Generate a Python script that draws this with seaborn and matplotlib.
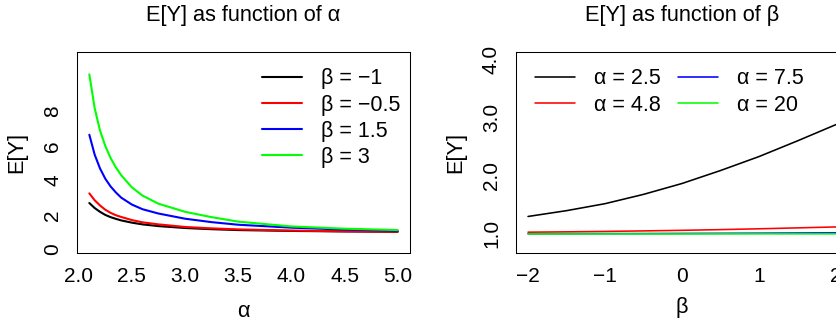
import matplotlib
matplotlib.use("Agg")
import matplotlib.pyplot as plt
import numpy as np
import pandas as pd
import seaborn as sns

# ---------------- data ----------------
alpha_grid = [2.1, 2.15, 2.2, 2.25, 2.3, 2.35, 2.4, 2.5, 2.6, 2.75, 3.0, 3.25, 3.5, 4.0, 4.5, 5.0]
ey_beta_m1 = [2.69, 2.40, 2.18, 2.00, 1.87, 1.77, 1.68, 1.55, 1.45, 1.35, 1.24, 1.17, 1.12, 1.07, 1.04, 1.02]
ey_beta_m05 = [3.25, 2.85, 2.55, 2.30, 2.12, 1.98, 1.88, 1.70, 1.57, 1.45, 1.30, 1.22, 1.16, 1.09, 1.05, 1.03]
ey_beta_15 = [6.65, 5.50, 4.70, 4.10, 3.65, 3.30, 3.00, 2.60, 2.33, 2.08, 1.78, 1.58, 1.43, 1.26, 1.15, 1.08]
ey_beta_3 = [10.15, 8.20, 6.90, 6.00, 5.30, 4.75, 4.30, 3.60, 3.12, 2.65, 2.18, 1.87, 1.61, 1.33, 1.20, 1.12]
beta_labels = ["β = −1", "β = −0.5", "β = 1.5", "β = 3"]

beta_grid = [-2, -1.5, -1, -0.5, 0, 0.5, 1, 1.5, 2]
ey_alpha_25 = [1.30, 1.40, 1.52, 1.68, 1.867, 2.09, 2.33, 2.60, 2.88]
ey_alpha_48 = [1.03, 1.036, 1.043, 1.052, 1.062, 1.074, 1.088, 1.104, 1.12]
ey_alpha_75 = [1.003, 1.004, 1.005, 1.006, 1.008, 1.010, 1.012, 1.015, 1.018]
ey_alpha_20 = [1.000, 1.000, 1.000, 1.000, 1.000, 1.001, 1.001, 1.001, 1.001]
alpha_labels = ["α = 2.5", "α = 4.8", "α = 7.5", "α = 20"]

left_xticks = [2.0, 2.5, 3.0, 3.5, 4.0, 4.5, 5.0]
left_xticklabels = ["2.0", "2.5", "3.0", "3.5", "4.0", "4.5", "5.0"]
left_yticks = [0, 2, 4, 6, 8, 10]
left_yticklabels = ["0", "2", "4", "6", "8", ""]
right_xticks = [-2, -1, 0, 1, 2]
right_xticklabels = ["−2", "−1", "0", "1", "2"]
right_yticks = [1.0, 1.5, 2.0, 2.5, 3.0, 3.5, 4.0]
right_yticklabels = ["1.0", "", "2.0", "", "3.0", "", "4.0"]

colors = ["#000000", "#FF0000", "#0000FF", "#00FF00"]

df1 = pd.DataFrame({
    "alpha": alpha_grid * 4,
    "EY": ey_beta_m1 + ey_beta_m05 + ey_beta_15 + ey_beta_3,
    "curve": sum([[lab] * len(alpha_grid) for lab in beta_labels], []),
})
df2 = pd.DataFrame({
    "beta": beta_grid * 4,
    "EY": ey_alpha_25 + ey_alpha_48 + ey_alpha_75 + ey_alpha_20,
    "curve": sum([[lab] * len(beta_grid) for lab in alpha_labels], []),
})

# ---------------- style ----------------
sns.set_style("white")
plt.rcParams["font.family"] = ["Liberation Sans", "DejaVu Sans"]
plt.rcParams["axes.unicode_minus"] = True
plt.rcParams["text.color"] = "black"
plt.rcParams["axes.labelcolor"] = "black"
plt.rcParams["xtick.color"] = "black"
plt.rcParams["ytick.color"] = "black"

W, H = 837, 324
fig = plt.figure(figsize=(W / 100, H / 100), dpi=100)


def px(l, t, r, b):
    return [l / W, 1 - b / H, (r - l) / W, (b - t) / H]


ax1 = fig.add_axes(px(77, 52, 410, 253))
ax2 = fig.add_axes(px(515.7, 52, 848.3, 253))

FS = 15.7
LFS = 15.5
TFS = 15.0

sns.lineplot(data=df1, x="alpha", y="EY", hue="curve", hue_order=beta_labels,
             palette=colors, estimator=None, sort=True, ax=ax1, lw=1.5, legend=False)
sns.lineplot(data=df2, x="beta", y="EY", hue="curve", hue_order=alpha_labels,
             palette=colors, estimator=None, sort=True, ax=ax2, lw=1.15, legend=False)

ax1.set_xlim(1.984, 5.116)
ax1.set_ylim(-0.21, 11.45)
ax2.set_xlim(-2.16, 2.16)
ax2.set_ylim(0.672, 4.128)

for ax, xt, xtl, yt, ytl in [(ax1, left_xticks, left_xticklabels, left_yticks, left_yticklabels),
                              (ax2, right_xticks, right_xticklabels, right_yticks, right_yticklabels)]:
    ax.set_xticks(xt)
    ax.set_xticklabels(xtl)
    ax.set_yticks(yt)
    ax.set_yticklabels(ytl, rotation=90, va="center")
    ax.set_xlabel("")
    ax.set_ylabel("")
    ax.tick_params(axis="both", direction="out", length=6.8, width=0.75, color="black",
                   labelsize=TFS, labelcolor="black")
    ax.tick_params(axis="x", pad=3.4)
    ax.tick_params(axis="y", pad=3.8)
    for sp in ax.spines.values():
        sp.set_visible(True)
        sp.set_color("black")
        sp.set_linewidth(0.75)
    ax.grid(False)

# legends
h1 = ax1.get_lines()[:4]
ax1.legend(h1, beta_labels, loc="upper left", bbox_to_anchor=(262 / W, 1 - 68.5 / H),
           bbox_transform=fig.transFigure, frameon=False, fontsize=LFS,
           handlelength=1.88, handletextpad=0.85, labelspacing=0.24,
           borderpad=0, borderaxespad=0)
h2 = ax2.get_lines()[:4]
ax2.legend(h2, alpha_labels, loc="upper left", bbox_to_anchor=(535 / W, 1 - 68.5 / H),
           bbox_transform=fig.transFigure, frameon=False, fontsize=LFS, ncol=2,
           handlelength=1.88, handletextpad=0.85, labelspacing=0.24, columnspacing=0.8,
           borderpad=0, borderaxespad=0)

# titles and axis labels
fig.text(243.5 / W, 1 - 15.8 / H, "E[Y] as function of α", ha="center", va="center", fontsize=FS)
fig.text(682 / W, 1 - 15.8 / H, "E[Y] as function of β", ha="center", va="center", fontsize=FS)
fig.text(243.5 / W, 1 - 311.5 / H, "α", ha="center", va="center", fontsize=FS)
fig.text(682 / W, 1 - 307.7 / H, "β", ha="center", va="center", fontsize=FS)
fig.text(16.5 / W, 1 - 152.5 / H, "E[Y]", ha="center", va="center", rotation=90, fontsize=FS)
fig.text(456 / W, 1 - 152.5 / H, "E[Y]", ha="center", va="center", rotation=90, fontsize=FS)

fig.savefig("out.png", dpi=100, facecolor="white")
